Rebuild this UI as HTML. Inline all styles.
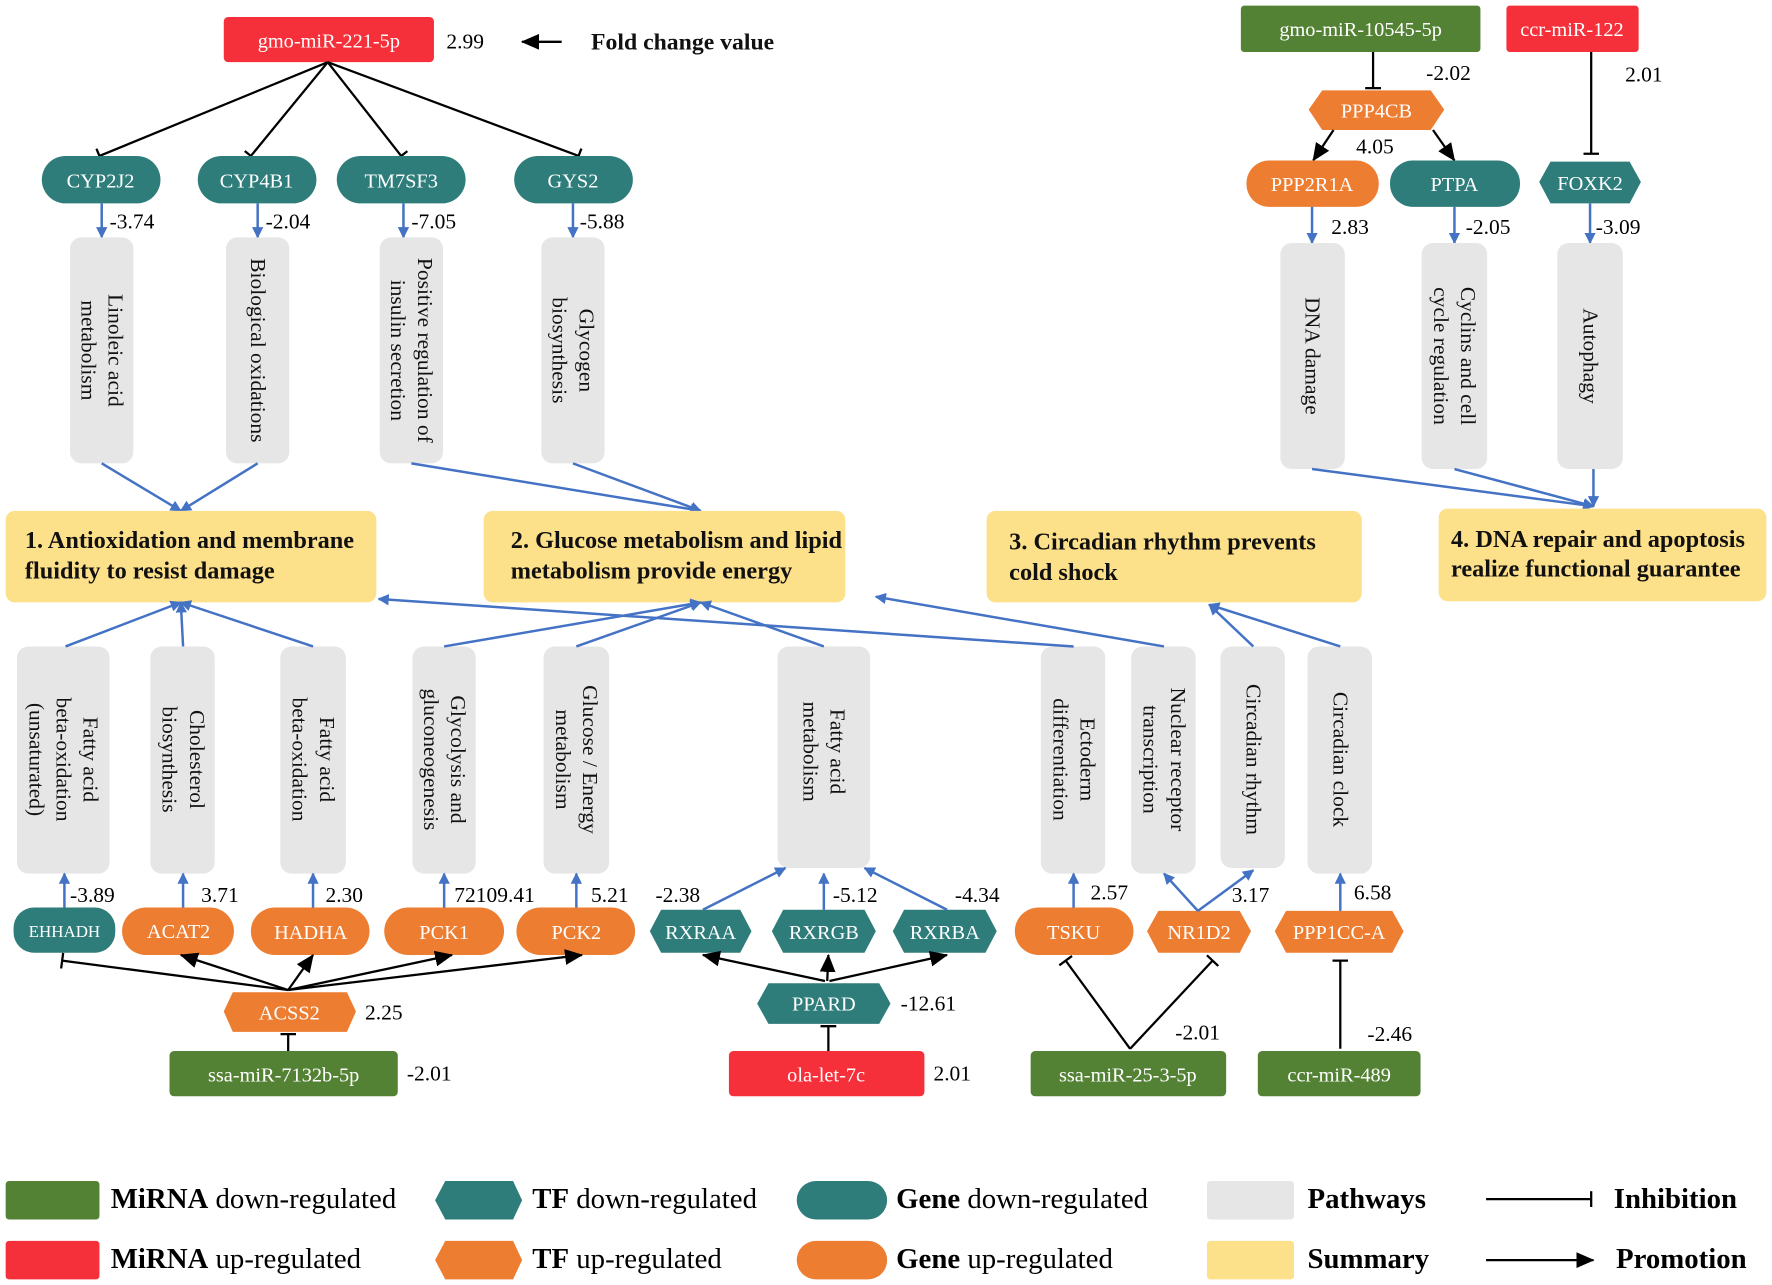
<!DOCTYPE html>
<html><head><meta charset="utf-8"><style>
html,body{margin:0;padding:0;background:#fff;}
svg{display:block;}
text{font-family:"Liberation Serif",serif;}
.w{fill:#fff;font-size:18px;text-anchor:middle;}
.v{fill:#000;font-size:19px;}
.p{fill:#111;font-size:19px;text-anchor:middle;}
.s{fill:#111;font-size:21.5px;font-weight:bold;}
.k{stroke:#000;stroke-width:2;fill:none;}
.b{stroke:#4472c4;stroke-width:2.2;fill:none;}
.g{fill:#e6e6e6;}
.y{fill:#fde08a;}
.lg{fill:#000;font-size:25.5px;}
</style></head><body>
<svg width="1772" height="1285" viewBox="0 0 1568 1137" preserveAspectRatio="none" xmlns="http://www.w3.org/2000/svg">
<defs>
<marker id="ab" markerWidth="10" markerHeight="10" refX="9" refY="5" orient="auto" markerUnits="userSpaceOnUse"><path d="M0,0 L10,5 L0,10 z" fill="#4472c4"/></marker>
<marker id="ak" markerWidth="16" markerHeight="14" refX="15" refY="7" orient="auto" markerUnits="userSpaceOnUse"><path d="M0,0 L16,7 L0,14 z" fill="#000"/></marker>
<marker id="t" markerWidth="4" markerHeight="14" refX="2" refY="7" orient="auto" markerUnits="userSpaceOnUse"><path d="M2,0 L2,14" stroke="#000" stroke-width="2"/></marker>
</defs>

<rect x="198" y="15" width="186" height="40" rx="4" fill="#f5303a"/>
<text class="w" x="291" y="42">gmo-miR-221-5p</text>
<text class="v" x="395" y="43">2.99</text>
<line class="k" x1="497" y1="37" x2="462" y2="37" marker-end="url(#ak)"/>
<text class="s" x="523" y="44" style="font-size:21px">Fold change value</text>

<line class="k" x1="290" y1="55" x2="88" y2="138" marker-end="url(#t)"/>
<line class="k" x1="290" y1="55" x2="222" y2="138" marker-end="url(#t)"/>
<line class="k" x1="290" y1="55" x2="355" y2="138" marker-end="url(#t)"/>
<line class="k" x1="290" y1="55" x2="512" y2="138" marker-end="url(#t)"/>

<rect x="37" y="138" width="105" height="42" rx="21" fill="#2e7d7b"/><text class="w" x="89" y="166">CYP2J2</text>
<rect x="175" y="138" width="105" height="42" rx="21" fill="#2e7d7b"/><text class="w" x="227" y="166">CYP4B1</text>
<rect x="298" y="138" width="114" height="42" rx="21" fill="#2e7d7b"/><text class="w" x="355" y="166">TM7SF3</text>
<rect x="455" y="138" width="105" height="42" rx="21" fill="#2e7d7b"/><text class="w" x="507" y="166">GYS2</text>

<line class="b" x1="90" y1="180" x2="90" y2="210" marker-end="url(#ab)"/><text class="v" x="97" y="202">-3.74</text>
<line class="b" x1="228" y1="180" x2="228" y2="210" marker-end="url(#ab)"/><text class="v" x="235" y="202">-2.04</text>
<line class="b" x1="357" y1="180" x2="357" y2="210" marker-end="url(#ab)"/><text class="v" x="364" y="202">-7.05</text>
<line class="b" x1="507" y1="180" x2="507" y2="210" marker-end="url(#ab)"/><text class="v" x="513" y="202">-5.88</text>

<rect class="g" x="62" y="210" width="56" height="200" rx="10"/>
<text class="p" transform="translate(90,310) rotate(90)"><tspan x="0" dy="-6">Linoleic acid</tspan><tspan x="0" dy="24">metabolism</tspan></text>
<rect class="g" x="200" y="210" width="56" height="200" rx="10"/>
<text class="p" transform="translate(228,310) rotate(90)"><tspan x="0" dy="6">Biological oxidations</tspan></text>
<rect class="g" x="336" y="210" width="56" height="200" rx="10"/>
<text class="p" transform="translate(364,310) rotate(90)"><tspan x="0" dy="-6">Positive regulation of</tspan><tspan x="0" dy="24">insulin secretion</tspan></text>
<rect class="g" x="479" y="210" width="56" height="200" rx="10"/>
<text class="p" transform="translate(507,310) rotate(90)"><tspan x="0" dy="-6">Glycogen</tspan><tspan x="0" dy="24">biosynthesis</tspan></text>

<line class="b" x1="90" y1="410" x2="160" y2="452" marker-end="url(#ab)"/>
<line class="b" x1="228" y1="410" x2="160" y2="452" marker-end="url(#ab)"/>
<line class="b" x1="364" y1="410" x2="620" y2="452" marker-end="url(#ab)"/>
<line class="b" x1="507" y1="410" x2="620" y2="452" marker-end="url(#ab)"/>

<rect x="1098" y="5" width="212" height="41" rx="3" fill="#548235"/><text class="w" x="1204" y="32">gmo-miR-10545-5p</text>
<rect x="1333" y="5" width="117" height="41" rx="3" fill="#f5303a"/><text class="w" x="1391" y="32">ccr-miR-122</text>
<line class="k" x1="1215" y1="46" x2="1215" y2="78" marker-end="url(#t)"/>
<text class="v" x="1262" y="71">-2.02</text>
<path d="M1158,97 L1170,80 L1266,80 L1278,97 L1266,115 L1170,115 z" fill="#ed7d31"/><text class="w" x="1218" y="104">PPP4CB</text>
<text class="v" x="1200" y="136">4.05</text>
<line class="k" x1="1180" y1="115" x2="1162" y2="142" marker-end="url(#ak)"/>
<line class="k" x1="1268" y1="115" x2="1287" y2="142" marker-end="url(#ak)"/>
<rect x="1103" y="142" width="117" height="41" rx="20" fill="#ed7d31"/><text class="w" x="1161" y="169">PPP2R1A</text>
<rect x="1230" y="142" width="115" height="41" rx="20" fill="#2e7d7b"/><text class="w" x="1287" y="169">PTPA</text>
<line class="k" x1="1408" y1="46" x2="1408" y2="136" marker-end="url(#t)"/>
<text class="v" x="1438" y="72">2.01</text>
<path d="M1362,161 L1372,143 L1442,143 L1452,161 L1442,180 L1372,180 z" fill="#2e7d7b"/><text class="w" x="1407" y="168">FOXK2</text>

<line class="b" x1="1161" y1="183" x2="1161" y2="215" marker-end="url(#ab)"/><text class="v" x="1178" y="207">2.83</text>
<line class="b" x1="1287" y1="183" x2="1287" y2="215" marker-end="url(#ab)"/><text class="v" x="1297" y="207">-2.05</text>
<line class="b" x1="1407" y1="180" x2="1407" y2="215" marker-end="url(#ab)"/><text class="v" x="1412" y="207">-3.09</text>

<rect class="g" x="1133" y="215" width="57" height="200" rx="10"/>
<text class="p" transform="translate(1161,315) rotate(90)"><tspan x="0" dy="6">DNA damage</tspan></text>
<rect class="g" x="1258" y="215" width="58" height="200" rx="10"/>
<text class="p" transform="translate(1287,315) rotate(90)"><tspan x="0" dy="-6">Cyclins and cell</tspan><tspan x="0" dy="24">cycle regulation</tspan></text>
<rect class="g" x="1378" y="215" width="58" height="200" rx="10"/>
<text class="p" transform="translate(1407,315) rotate(90)"><tspan x="0" dy="6">Autophagy</tspan></text>
<line class="b" x1="1161" y1="415" x2="1410" y2="448" marker-end="url(#ab)"/>
<line class="b" x1="1287" y1="415" x2="1410" y2="448" marker-end="url(#ab)"/>
<line class="b" x1="1410" y1="415" x2="1410" y2="448" marker-end="url(#ab)"/>

<rect class="y" x="5" y="452" width="328" height="81" rx="8"/>
<text class="s" x="22" y="485">1. Antioxidation and membrane</text><text class="s" x="22" y="512">fluidity to resist damage</text>
<rect class="y" x="428" y="452" width="320" height="81" rx="8"/>
<text class="s" x="452" y="485">2. Glucose metabolism and lipid</text><text class="s" x="452" y="512">metabolism provide energy</text>
<rect class="y" x="873" y="452" width="332" height="81" rx="8"/>
<text class="s" x="893" y="486">3. Circadian rhythm prevents</text><text class="s" x="893" y="513">cold shock</text>
<rect class="y" x="1273" y="450" width="290" height="82" rx="8"/>
<text class="s" x="1284" y="484">4. DNA repair and apoptosis</text><text class="s" x="1284" y="510">realize functional guarantee</text>

<g>
<rect class="g" x="15" y="572" width="82" height="201" rx="10"/>
<text class="p" transform="translate(56,672) rotate(90)"><tspan x="0" dy="-18">Fatty acid</tspan><tspan x="0" dy="24">beta-oxidation</tspan><tspan x="0" dy="24">(unsaturated)</tspan></text>
<rect class="g" x="133" y="572" width="57" height="201" rx="10"/>
<text class="p" transform="translate(162,672) rotate(90)"><tspan x="0" dy="-6">Cholesterol</tspan><tspan x="0" dy="24">biosynthesis</tspan></text>
<rect class="g" x="248" y="572" width="58" height="201" rx="10"/>
<text class="p" transform="translate(277,672) rotate(90)"><tspan x="0" dy="-6">Fatty acid</tspan><tspan x="0" dy="24">beta-oxidation</tspan></text>
<rect class="g" x="365" y="572" width="56" height="201" rx="10"/>
<text class="p" transform="translate(393,672) rotate(90)"><tspan x="0" dy="-6">Glycolysis and</tspan><tspan x="0" dy="24">gluconeogenesis</tspan></text>
<rect class="g" x="481" y="572" width="58" height="201" rx="10"/>
<text class="p" transform="translate(510,672) rotate(90)"><tspan x="0" dy="-6">Glucose / Energy</tspan><tspan x="0" dy="24">metabolism</tspan></text>
<rect class="g" x="688" y="572" width="82" height="196" rx="10"/>
<text class="p" transform="translate(729,665) rotate(90)"><tspan x="0" dy="-6">Fatty acid</tspan><tspan x="0" dy="24">metabolism</tspan></text>
<rect class="g" x="921" y="572" width="57" height="201" rx="10"/>
<text class="p" transform="translate(950,672) rotate(90)"><tspan x="0" dy="-6">Ectoderm</tspan><tspan x="0" dy="24">differentiation</tspan></text>
<rect class="g" x="1001" y="572" width="57" height="201" rx="10"/>
<text class="p" transform="translate(1030,672) rotate(90)"><tspan x="0" dy="-6">Nuclear receptor</tspan><tspan x="0" dy="24">transcription</tspan></text>
<rect class="g" x="1080" y="572" width="57" height="196" rx="10"/>
<text class="p" transform="translate(1109,672) rotate(90)"><tspan x="0" dy="6">Circadian rhythm</tspan></text>
<rect class="g" x="1157" y="572" width="57" height="201" rx="10"/>
<text class="p" transform="translate(1186,672) rotate(90)"><tspan x="0" dy="6">Circadian clock</tspan></text>
</g>

<line class="b" x1="58" y1="572" x2="160" y2="533" marker-end="url(#ab)"/>
<line class="b" x1="162" y1="572" x2="160" y2="533" marker-end="url(#ab)"/>
<line class="b" x1="277" y1="572" x2="160" y2="533" marker-end="url(#ab)"/>
<line class="b" x1="393" y1="572" x2="620" y2="533" marker-end="url(#ab)"/>
<line class="b" x1="510" y1="572" x2="620" y2="533" marker-end="url(#ab)"/>
<line class="b" x1="729" y1="572" x2="620" y2="533" marker-end="url(#ab)"/>
<line class="b" x1="950" y1="572" x2="335" y2="530" marker-end="url(#ab)"/>
<line class="b" x1="1030" y1="572" x2="775" y2="528" marker-end="url(#ab)"/>
<line class="b" x1="1109" y1="572" x2="1070" y2="535" marker-end="url(#ab)"/>
<line class="b" x1="1186" y1="572" x2="1070" y2="535" marker-end="url(#ab)"/>

<rect x="12" y="803" width="90" height="40" rx="18" fill="#2e7d7b"/><text class="w" x="57" y="829" style="font-size:15px">EHHADH</text>
<rect x="108" y="803" width="99" height="42" rx="21" fill="#ed7d31"/><text class="w" x="158" y="830">ACAT2</text>
<rect x="222" y="803" width="105" height="42" rx="21" fill="#ed7d31"/><text class="w" x="275" y="831">HADHA</text>
<rect x="340" y="803" width="106" height="42" rx="21" fill="#ed7d31"/><text class="w" x="393" y="831">PCK1</text>
<rect x="457" y="803" width="105" height="42" rx="21" fill="#ed7d31"/><text class="w" x="510" y="831">PCK2</text>
<path d="M575,824 L585,805 L655,805 L665,824 L655,843 L585,843 z" fill="#2e7d7b"/><text class="w" x="620" y="831">RXRAA</text>
<path d="M683,824 L693,805 L765,805 L775,824 L765,843 L693,843 z" fill="#2e7d7b"/><text class="w" x="729" y="831">RXRGB</text>
<path d="M790,824 L800,805 L872,805 L882,824 L872,843 L800,843 z" fill="#2e7d7b"/><text class="w" x="836" y="831">RXRBA</text>
<rect x="898" y="803" width="105" height="42" rx="21" fill="#ed7d31"/><text class="w" x="950" y="831">TSKU</text>
<path d="M1015,824 L1025,806 L1097,806 L1107,824 L1097,843 L1025,843 z" fill="#ed7d31"/><text class="w" x="1061" y="831">NR1D2</text>
<path d="M1128,824 L1138,806 L1232,806 L1242,824 L1232,843 L1138,843 z" fill="#ed7d31"/><text class="w" x="1185" y="831">PPP1CC-A</text>

<line class="b" x1="57" y1="803" x2="57" y2="773" marker-end="url(#ab)"/><text class="v" x="62" y="798">-3.89</text>
<line class="b" x1="162" y1="803" x2="162" y2="773" marker-end="url(#ab)"/><text class="v" x="178" y="798">3.71</text>
<line class="b" x1="277" y1="803" x2="277" y2="773" marker-end="url(#ab)"/><text class="v" x="288" y="798">2.30</text>
<line class="b" x1="393" y1="803" x2="393" y2="773" marker-end="url(#ab)"/><text class="v" x="402" y="798">72109.41</text>
<line class="b" x1="510" y1="803" x2="510" y2="773" marker-end="url(#ab)"/><text class="v" x="523" y="798">5.21</text>
<line class="b" x1="622" y1="805" x2="695" y2="768" marker-end="url(#ab)"/><text class="v" x="580" y="798">-2.38</text>
<line class="b" x1="729" y1="805" x2="729" y2="773" marker-end="url(#ab)"/><text class="v" x="737" y="798">-5.12</text>
<line class="b" x1="838" y1="805" x2="765" y2="768" marker-end="url(#ab)"/><text class="v" x="845" y="798">-4.34</text>
<line class="b" x1="950" y1="803" x2="950" y2="773" marker-end="url(#ab)"/><text class="v" x="965" y="796">2.57</text>
<line class="b" x1="1060" y1="806" x2="1030" y2="773" marker-end="url(#ab)"/>
<line class="b" x1="1060" y1="806" x2="1109" y2="770" marker-end="url(#ab)"/><text class="v" x="1090" y="798">3.17</text>
<line class="b" x1="1186" y1="806" x2="1186" y2="773" marker-end="url(#ab)"/><text class="v" x="1198" y="796">6.58</text>

<line class="k" x1="255" y1="876" x2="55" y2="850" marker-end="url(#t)"/>
<line class="k" x1="255" y1="876" x2="160" y2="845" marker-end="url(#ak)"/>
<line class="k" x1="255" y1="876" x2="277" y2="845" marker-end="url(#ak)"/>
<line class="k" x1="255" y1="876" x2="400" y2="845" marker-end="url(#ak)"/>
<line class="k" x1="255" y1="876" x2="515" y2="845" marker-end="url(#ak)"/>
<path d="M198,895 L206,878 L307,878 L315,895 L307,913 L206,913 z" fill="#ed7d31"/><text class="w" x="256" y="902">ACSS2</text>
<text class="v" x="323" y="902">2.25</text>
<line class="k" x1="255" y1="930" x2="255" y2="915" marker-end="url(#t)"/>
<rect x="150" y="930" width="202" height="40" rx="4" fill="#548235"/><text class="w" x="251" y="957">ssa-miR-7132b-5p</text>
<text class="v" x="360" y="956">-2.01</text>

<line class="k" x1="730" y1="868" x2="622" y2="845" marker-end="url(#ak)"/>
<line class="k" x1="732" y1="868" x2="733" y2="845" marker-end="url(#ak)"/>
<line class="k" x1="734" y1="868" x2="838" y2="845" marker-end="url(#ak)"/>
<path d="M670,888 L680,870 L778,870 L788,888 L778,906 L680,906 z" fill="#2e7d7b"/><text class="w" x="729" y="894">PPARD</text>
<text class="v" x="797" y="894">-12.61</text>
<line class="k" x1="733" y1="930" x2="733" y2="908" marker-end="url(#t)"/>
<rect x="645" y="930" width="173" height="40" rx="4" fill="#f5303a"/><text class="w" x="731" y="957">ola-let-7c</text>
<text class="v" x="826" y="956">2.01</text>

<line class="k" x1="1000" y1="928" x2="943" y2="850" marker-end="url(#t)"/>
<line class="k" x1="1000" y1="928" x2="1073" y2="850" marker-end="url(#t)"/>
<rect x="912" y="930" width="173" height="40" rx="4" fill="#548235"/><text class="w" x="998" y="957">ssa-miR-25-3-5p</text>
<text class="v" x="1040" y="920">-2.01</text>
<line class="k" x1="1186" y1="928" x2="1186" y2="850" marker-end="url(#t)"/>
<rect x="1113" y="930" width="144" height="40" rx="4" fill="#548235"/><text class="w" x="1185" y="957">ccr-miR-489</text>
<text class="v" x="1210" y="921">-2.46</text>

<rect x="5" y="1045" width="83" height="34" rx="3" fill="#548235"/>
<text class="lg" x="98" y="1069"><tspan font-weight="bold">MiRNA</tspan> down-regulated</text>
<rect x="5" y="1098" width="83" height="34" rx="3" fill="#f5303a"/>
<text class="lg" x="98" y="1122"><tspan font-weight="bold">MiRNA</tspan> up-regulated</text>
<path d="M385,1062 L394,1045 L454,1045 L462,1062 L454,1079 L394,1079 z" fill="#2e7d7b"/>
<text class="lg" x="471" y="1069"><tspan font-weight="bold">TF</tspan> down-regulated</text>
<path d="M385,1115 L394,1098 L454,1098 L462,1115 L454,1132 L394,1132 z" fill="#ed7d31"/>
<text class="lg" x="471" y="1122"><tspan font-weight="bold">TF</tspan> up-regulated</text>
<rect x="705" y="1045" width="80" height="34" rx="17" fill="#2e7d7b"/>
<text class="lg" x="793" y="1069"><tspan font-weight="bold">Gene</tspan> down-regulated</text>
<rect x="705" y="1098" width="80" height="34" rx="17" fill="#ed7d31"/>
<text class="lg" x="793" y="1122"><tspan font-weight="bold">Gene</tspan> up-regulated</text>
<rect class="g" x="1068" y="1045" width="77" height="34" rx="3"/>
<text class="lg" x="1157" y="1069" font-weight="bold">Pathways</text>
<rect class="y" x="1068" y="1098" width="77" height="34" rx="3"/>
<text class="lg" x="1157" y="1122" font-weight="bold">Summary</text>
<line class="k" x1="1315" y1="1061" x2="1408" y2="1061" marker-end="url(#t)"/>
<text class="lg" x="1428" y="1069" font-weight="bold">Inhibition</text>
<line class="k" x1="1315" y1="1115" x2="1410" y2="1115" marker-end="url(#ak)"/>
<text class="lg" x="1430" y="1122" font-weight="bold">Promotion</text>
</svg>
</body></html>
